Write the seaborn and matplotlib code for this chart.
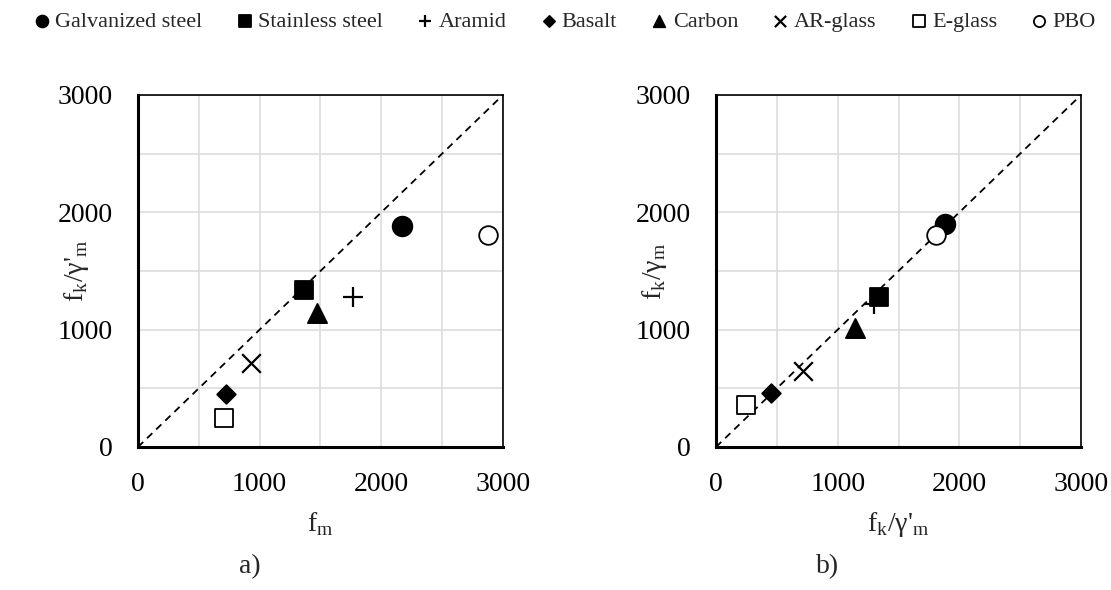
import matplotlib
matplotlib.use("Agg")
import matplotlib.pyplot as plt
import seaborn as sns
import pandas as pd

# materials and their plotted values
materials = ["Galvanized steel", "Stainless steel", "Aramid", "Basalt",
             "Carbon", "AR-glass", "E-glass", "PBO"]
f_m = [2170, 1365, 1765, 725, 1470, 930, 705, 2880]
fk_gm_prime = [1880, 1340, 1280, 455, 1145, 715, 250, 1810]
fk_gm_prime_b = [1885, 1340, 1295, 455, 1145, 715, 250, 1810]
fk_gm = [1900, 1277, 1215, 456, 1012, 650, 362, 1810]

markers = {"Galvanized steel": "o", "Stainless steel": "s", "Aramid": "+",
           "Basalt": "D", "Carbon": "^", "AR-glass": "x",
           "E-glass": "s", "PBO": "o"}
faces = {"Galvanized steel": "black", "Stainless steel": "black", "Aramid": "black",
         "Basalt": "black", "Carbon": "black", "AR-glass": "black",
         "E-glass": "white", "PBO": "white"}
sizes = {"Galvanized steel": 200, "Stainless steel": 185, "Aramid": 190,
         "Basalt": 90, "Carbon": 190, "AR-glass": 180,
         "E-glass": 175, "PBO": 180}

df_a = pd.DataFrame({"material": materials, "x": f_m, "y": fk_gm_prime})
df_b = pd.DataFrame({"material": materials, "x": fk_gm_prime_b, "y": fk_gm})

sns.set_style("white")
plt.rcParams["font.family"] = ["Liberation Serif", "DejaVu Serif"]
plt.rcParams["mathtext.fontset"] = "custom"
plt.rcParams["mathtext.rm"] = "Liberation Serif"

fig = plt.figure(figsize=(11.11, 5.90), dpi=100)
ax1 = fig.add_axes([0.1242, 0.2424, 0.3285, 0.5966])
ax2 = fig.add_axes([0.6445, 0.2424, 0.3285, 0.5966])


def draw(ax, df):
    ax.plot([0, 3000], [0, 3000], color="black", linestyle=(0, (4, 3)), lw=1.3, zorder=2)
    for _, r in df.iterrows():
        m = r["material"]
        filled = markers[m] not in ("+", "x")
        sns.scatterplot(x=[r["x"]], y=[r["y"]], ax=ax, marker=markers[m], s=sizes[m],
                        color=faces[m] if filled else "black",
                        edgecolor="black", linewidth=1.3 if filled else 1.6,
                        label=m, zorder=3)
    ax.set_xlim(0, 3000)
    ax.set_ylim(0, 3000)
    ax.set_xticks(range(0, 3001, 500))
    ax.set_yticks(range(0, 3001, 500))
    ax.set_xticklabels([str(t) if t % 1000 == 0 else "" for t in range(0, 3001, 500)])
    ax.set_yticklabels([str(t) if t % 1000 == 0 else "" for t in range(0, 3001, 500)])
    ax.grid(True, color="#dddddd", lw=1.2, zorder=0)
    ax.set_axisbelow(True)
    for side in ["top", "right"]:
        ax.spines[side].set_linewidth(1.2)
        ax.spines[side].set_color("black")
    for side in ["left", "bottom"]:
        ax.spines[side].set_linewidth(2.2)
        ax.spines[side].set_color("black")
    ax.tick_params(axis="both", direction="out", length=6, width=1.5,
                   labelsize=20, pad=12, colors="black")
    ax.legend_.remove()


draw(ax1, df_a)
draw(ax2, df_b)

ax1.set_xlabel("f$_\\mathregular{m}$", fontsize=20)
ax1.set_ylabel("f$_\\mathregular{k}$/γ'$_\\mathregular{m}$", fontsize=20)
ax2.set_xlabel("f$_\\mathregular{k}$/γ'$_\\mathregular{m}$", fontsize=20)
ax2.set_ylabel("f$_\\mathregular{k}$/γ$_\\mathregular{m}$", fontsize=20)
for ax in (ax1, ax2):
    ax.xaxis.set_label_coords(0.5, -0.18)
    ax.yaxis.set_label_coords(-0.13, 0.5)

fig.text(0.225, 0.04, "a)", fontsize=20, ha="center", va="center")
fig.text(0.745, 0.04, "b)", fontsize=20, ha="center", va="center")

handles, labels = ax1.get_legend_handles_labels()
fig.legend(handles, labels, loc="upper center", bbox_to_anchor=(0.507, 1.015), ncol=8,
           frameon=False, fontsize=16, markerscale=0.6, handletextpad=0.1,
           columnspacing=1.4, handlelength=1.0)

plt.savefig("out.png", dpi=100)
